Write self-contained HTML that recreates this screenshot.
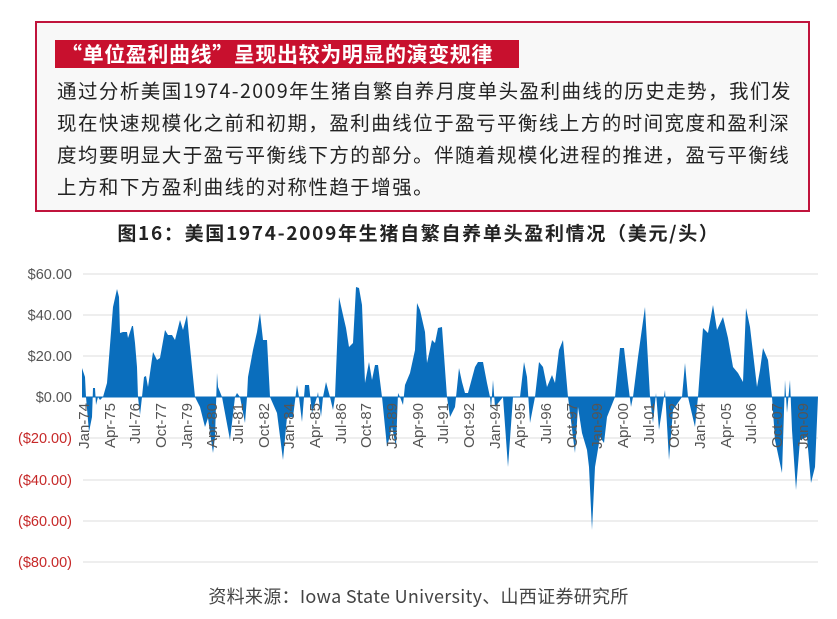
<!DOCTYPE html>
<html><head><meta charset="utf-8"><style>
body{margin:0;width:837px;height:619px;background:#fff;position:relative;overflow:hidden;font-family:"Liberation Sans","Noto Sans CJK SC",sans-serif}
.box{position:absolute;left:35px;top:21px;width:775px;height:191px;border:2px solid #c0143c;background:#f8f8f8;box-sizing:border-box}
.ttl{position:absolute;left:55px;top:40px;width:464px;height:28px;background:#c8102e;color:#fff;font-weight:bold;font-size:21px;letter-spacing:0.6px;line-height:28px;padding-left:6px;box-sizing:border-box;white-space:nowrap;font-family:"Noto Sans CJK SC",sans-serif}
.p{position:absolute;left:57px;font-size:19.5px;letter-spacing:1.45px;color:#222;white-space:nowrap;font-family:"Noto Sans CJK SC",sans-serif;line-height:20px}
.ct{position:absolute;left:0;width:837px;top:219px;text-align:center;font-weight:bold;font-size:19px;letter-spacing:1.7px;color:#222;font-family:"Noto Sans CJK SC",sans-serif}
.src{position:absolute;left:0;width:837px;top:583px;text-align:center;font-size:18px;letter-spacing:0.3px;color:#444;font-family:"Noto Sans CJK SC",sans-serif}
</style></head><body>
<div class="box"></div>
<div class="ttl">“单位盈利曲线”呈现出较为明显的演变规律</div>
<div class="p" style="top:80px">通过分析美国1974-2009年生猪自繁自养月度单头盈利曲线的历史走势，我们发</div>
<div class="p" style="top:112px">现在快速规模化之前和初期，盈利曲线位于盈亏平衡线上方的时间宽度和盈利深</div>
<div class="p" style="top:144px">度均要明显大于盈亏平衡线下方的部分。伴随着规模化进程的推进，盈亏平衡线</div>
<div class="p" style="top:176px">上方和下方盈利曲线的对称性趋于增强。</div>
<div class="ct">图16：美国1974-2009年生猪自繁自养单头盈利情况（美元/头）</div>
<svg width="837" height="619" style="position:absolute;left:0;top:0" font-family="Liberation Sans, sans-serif">
<g stroke="#dcdcdc" stroke-width="1">
<line x1="83" x2="818" y1="274" y2="274"/><line x1="83" x2="818" y1="315" y2="315"/><line x1="83" x2="818" y1="356" y2="356"/>
<line x1="83" x2="818" y1="438" y2="438"/><line x1="83" x2="818" y1="480" y2="480"/><line x1="83" x2="818" y1="521" y2="521"/><line x1="83" x2="818" y1="562" y2="562"/>
</g>
<g font-size="14.5" text-anchor="end">
<text x="72" y="279" fill="#555">$60.00</text><text x="72" y="320" fill="#555">$40.00</text><text x="72" y="361" fill="#555">$20.00</text><text x="72" y="402" fill="#555">$0.00</text>
<text x="72" y="443" fill="#c62828">($20.00)</text><text x="72" y="485" fill="#c62828">($40.00)</text><text x="72" y="526" fill="#c62828">($60.00)</text><text x="72" y="567" fill="#c62828">($80.00)</text>
</g>
<polygon fill="#0a6ebd" points="82,397 82,368 85,377 86,397 89,432 92,417 93,388 95,388 96,405 98,397 100,400 103,397 107,383 113,307 117,289 119,297 120,333 123,332 127,332 128,338 132,326 133,326 135,343 137,367 138,397 140,415 142,397 144,377 146,376 148,387 153,352 157,360 160,358 165,330 168,335 172,335 175,340 180,320 183,330 187,315 189,337 195,397 200,407 205,427 208,418 213,453 215,437 217,373 218,387 222,397 230,440 235,397 237,393 240,397 245,423 247,397 248,377 253,350 257,332 260,313 263,340 267,340 270,397 277,413 283,460 287,417 293,417 297,385 299,397 302,422 304,397 305,385 309,385 312,413 317,397 318,392 321,417 323,397 326,382 330,397 333,410 335,397 339,297 343,315 346,328 349,347 353,343 356,287 359,288 362,305 365,383 369,362 372,380 375,365 378,365 382,397 387,447 392,427 396,447 398,393 400,397 403,405 405,385 410,373 415,350 417,303 420,310 425,332 427,363 432,340 435,343 438,328 442,327 447,397 450,417 455,407 459,368 462,382 465,393 468,393 475,367 478,362 483,362 487,383 490,397 491,410 493,380 495,407 503,397 508,467 513,397 520,397 524,362 527,377 530,423 535,397 539,362 543,367 547,387 552,375 555,383 559,350 563,340 568,397 575,453 578,407 582,433 587,450 589,467 592,530 595,467 600,437 604,443 607,417 615,397 620,348 624,348 628,383 631,407 633,397 638,357 645,307 650,397 653,423 656,393 659,430 665,390 669,460 673,410 682,397 685,363 688,397 695,427 698,397 703,328 708,333 713,305 717,330 723,317 728,338 733,367 738,373 743,382 746,308 750,327 757,387 760,370 763,348 768,360 772,397 775,440 782,473 785,380 787,413 790,380 792,430 796,490 800,440 807,437 811,483 815,467 818,397"/>
<line x1="82" x2="818" y1="397" y2="397" stroke="#0a6ebd" stroke-width="1"/>
<g font-size="15" fill="#555">
<text transform="translate(89,403) rotate(-90)" text-anchor="end">Jan-74</text>
<text transform="translate(115,403) rotate(-90)" text-anchor="end">Apr-75</text>
<text transform="translate(140,403) rotate(-90)" text-anchor="end">Jul-76</text>
<text transform="translate(166,403) rotate(-90)" text-anchor="end">Oct-77</text>
<text transform="translate(192,403) rotate(-90)" text-anchor="end">Jan-79</text>
<text transform="translate(217,403) rotate(-90)" text-anchor="end">Apr-80</text>
<text transform="translate(243,403) rotate(-90)" text-anchor="end">Jul-81</text>
<text transform="translate(269,403) rotate(-90)" text-anchor="end">Oct-82</text>
<text transform="translate(294,403) rotate(-90)" text-anchor="end">Jan-84</text>
<text transform="translate(320,403) rotate(-90)" text-anchor="end">Apr-85</text>
<text transform="translate(346,403) rotate(-90)" text-anchor="end">Jul-86</text>
<text transform="translate(371,403) rotate(-90)" text-anchor="end">Oct-87</text>
<text transform="translate(397,403) rotate(-90)" text-anchor="end">Jan-89</text>
<text transform="translate(423,403) rotate(-90)" text-anchor="end">Apr-90</text>
<text transform="translate(448,403) rotate(-90)" text-anchor="end">Jul-91</text>
<text transform="translate(474,403) rotate(-90)" text-anchor="end">Oct-92</text>
<text transform="translate(500,403) rotate(-90)" text-anchor="end">Jan-94</text>
<text transform="translate(525,403) rotate(-90)" text-anchor="end">Apr-95</text>
<text transform="translate(551,403) rotate(-90)" text-anchor="end">Jul-96</text>
<text transform="translate(577,403) rotate(-90)" text-anchor="end">Oct-97</text>
<text transform="translate(602,403) rotate(-90)" text-anchor="end">Jan-99</text>
<text transform="translate(628,403) rotate(-90)" text-anchor="end">Apr-00</text>
<text transform="translate(654,403) rotate(-90)" text-anchor="end">Jul-01</text>
<text transform="translate(679,403) rotate(-90)" text-anchor="end">Oct-02</text>
<text transform="translate(705,403) rotate(-90)" text-anchor="end">Jan-04</text>
<text transform="translate(731,403) rotate(-90)" text-anchor="end">Apr-05</text>
<text transform="translate(756,403) rotate(-90)" text-anchor="end">Jul-06</text>
<text transform="translate(782,403) rotate(-90)" text-anchor="end">Oct-07</text>
<text transform="translate(808,403) rotate(-90)" text-anchor="end">Jan-09</text>
</g>
</svg>
<div class="src">资料来源：Iowa State University、山西证券研究所</div>
</body></html>
